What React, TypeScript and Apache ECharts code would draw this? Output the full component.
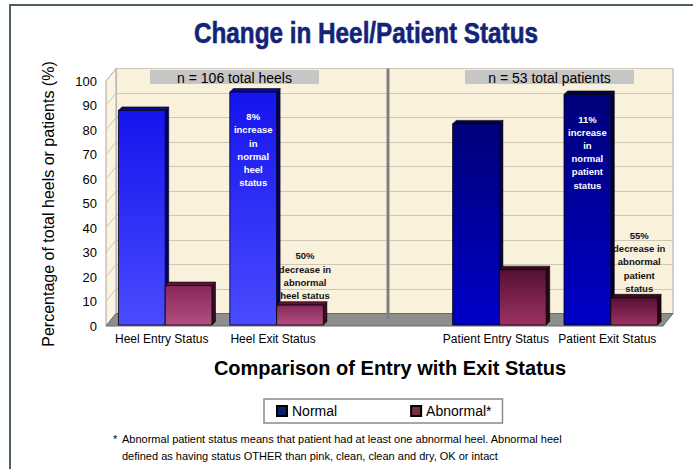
import React, { useEffect, useRef } from "react";
import * as echarts from "echarts";

// ---------- data ----------
const categories = ["Heel Entry Status", "Heel Exit Status", "", "Patient Entry Status", "Patient Exit Status"];
const groups = ["heel", "heel", "", "patient", "patient"];
const seriesNames = ["Normal", "Abnormal*"];
const normalValues = [88, 95.5, null, 82.5, 94.5];
const abnormalValues = [16.5, 8.5, null, 23, 11.5];
const normalNotes = ["", "8%\nincrease\nin\nnormal\nheel\nstatus", "", "", "11%\nincrease\nin\nnormal\npatient\nstatus"];
const abnormalNotes = ["", "50%\ndecrease in\nabnormal\nheel status", "", "", "55%\ndecrease in\nabnormal\npatient\nstatus"];
const yTicks = [0, 10, 20, 30, 40, 50, 60, 70, 80, 90, 100];
const groupLabels = ["n = 106 total heels", "n = 53 total patients"];
const titleText = "Change in Heel/Patient Status";
const yAxisTitle = "Percentage of total heels or patients (%)";
const xAxisTitle = "Comparison of Entry with Exit Status";
const footnoteLines = [
  "Abnormal patient status means that patient had at least one abnormal heel. Abnormal heel",
  "defined as having status OTHER than pink, clean, clean and dry, OK or intact",
];

// ---------- layout / style ----------
const W = 693;
const H = 469;
const FONT = "'Liberation Sans', Arial, Helvetica, sans-serif";
const FRONT = { left: 106, right: 30, top: 81, bottom: 143 };
const DX = 10;
const DY = 12.5;
const BACK = { left: FRONT.left + DX, right: FRONT.right - DX, top: FRONT.top - DY, bottom: FRONT.bottom + DY };
const BAR_SHIFT = 3.5;
const BAR_FRAC = 0.42;
const DEPTH = 3.5;

const barStyles: any = {
  heel: {
    normal: { top: "#1414ee", bottom: "#4b4bff", cap: "#0a0a9a", side: "#00006a" },
    abnormal: { top: "#86285a", bottom: "#b24e82", cap: "#5a1738", side: "#3a0c24" },
  },
  patient: {
    normal: { top: "#00007a", bottom: "#0000c8", cap: "#00005a", side: "#00003c" },
    abnormal: { top: "#561032", bottom: "#9c3264", cap: "#3a0a20", side: "#260614" },
  },
};
const legendColors = ["#0f1f70", "#7a2e40"];

function makeRenderItem(isNormal: boolean) {
  const notes = isNormal ? normalNotes : abnormalNotes;
  return (params: any, api: any) => {
    const idx = api.value(0);
    const v = api.value(1);
    const st = barStyles[groups[idx]][isNormal ? "normal" : "abnormal"];
    const base = api.coord([idx, 0]);
    const topP = api.coord([idx, v]);
    const catW = api.size([1, 0])[0];
    const bw = catW * BAR_FRAC;
    const x0 = (isNormal ? base[0] - bw : base[0]) + BAR_SHIFT;
    const yb = base[1] - 1;
    const yt = topP[1];
    const d = DEPTH;
    const children: any[] = [
      {
        type: "polygon",
        shape: { points: [[x0 + bw, yt], [x0 + bw + d, yt - d], [x0 + bw + d, yb - d], [x0 + bw, yb]] },
        style: { fill: st.side, stroke: "#000", lineWidth: 0.6 },
      },
      {
        type: "polygon",
        shape: { points: [[x0, yt], [x0 + d, yt - d], [x0 + bw + d, yt - d], [x0 + bw, yt]] },
        style: { fill: st.cap, stroke: "#000", lineWidth: 0.6 },
      },
      {
        type: "rect",
        shape: { x: x0, y: yt, width: bw, height: yb - yt },
        style: {
          fill: new echarts.graphic.LinearGradient(0, 0, 0, 1, [
            { offset: 0, color: st.top },
            { offset: 1, color: st.bottom },
          ]),
          stroke: "#000",
          lineWidth: 0.8,
        },
      },
    ];
    const note = notes[idx];
    if (note) {
      children.push({
        type: "text",
        x: x0 + bw / 2 + (isNormal ? 0 : 5),
        y: isNormal ? yt + 18 : yt - 3,
        style: {
          text: note,
          fill: isNormal ? "#ffffff" : "#111111",
          font: `bold 9.5px ${FONT}`,
          align: "center",
          verticalAlign: isNormal ? "top" : "bottom",
          lineHeight: 13.2,
        },
      });
    }
    return { type: "group", children };
  };
}

export default function App() {
  const ref = useRef<HTMLDivElement>(null);
  useEffect(() => {
    if (!ref.current) return;
    const chart = echarts.init(ref.current, undefined, { renderer: "svg" });
    const mkData = (vals: (number | null)[]) =>
      vals.map((v, i) => (v == null ? null : [i, v])).filter((d) => d !== null);

    const staticGraphics: any[] = [
      {
        type: "rect",
        z: 0,
        shape: { x: 10, y: 5, width: 720, height: 500 },
        style: { fill: "none", stroke: "#4f5f68", lineWidth: 2 },
      },
      {
        type: "text",
        x: 366,
        y: 33,
        scaleX: 0.81,
        style: {
          text: titleText,
          font: `bold 30px ${FONT}`,
          fill: "#122478",
          stroke: "#122478",
          lineWidth: 0.6,
          align: "center",
          verticalAlign: "middle",
        },
      },
      {
        type: "text",
        x: 48,
        y: 204,
        rotation: Math.PI / 2,
        style: { text: yAxisTitle, font: `16px ${FONT}`, fill: "#000", align: "center", verticalAlign: "middle" },
      },
      {
        type: "text",
        x: 390,
        y: 368,
        style: { text: xAxisTitle, font: `bold 20px ${FONT}`, fill: "#000", align: "center", verticalAlign: "middle" },
      },
      {
        type: "text",
        x: 113,
        y: 439,
        style: { text: "*", font: `11px ${FONT}`, fill: "#000", align: "left", verticalAlign: "middle" },
      },
      {
        type: "text",
        x: 122,
        y: 439,
        style: { text: footnoteLines[0], font: `11px ${FONT}`, fill: "#000", align: "left", verticalAlign: "middle" },
      },
      {
        type: "text",
        x: 122,
        y: 456,
        style: { text: footnoteLines[1], font: `11px ${FONT}`, fill: "#000", align: "left", verticalAlign: "middle" },
      },
      {
        type: "rect",
        z: 3,
        shape: { x: 150, y: 70, width: 169, height: 14 },
        style: { fill: "#c6c6c6" },
      },
      {
        type: "text",
        z: 4,
        x: 234.5,
        y: 77.5,
        style: { text: groupLabels[0], font: `14px ${FONT}`, fill: "#000", align: "center", verticalAlign: "middle" },
      },
      {
        type: "rect",
        z: 3,
        shape: { x: 465, y: 70, width: 169, height: 14 },
        style: { fill: "#c6c6c6" },
      },
      {
        type: "text",
        z: 4,
        x: 549.5,
        y: 77.5,
        style: { text: groupLabels[1], font: `14px ${FONT}`, fill: "#000", align: "center", verticalAlign: "middle" },
      },
    ];

    const option: any = {
      animation: false,
      backgroundColor: "#ffffff",
      textStyle: { fontFamily: FONT },
      legend: {
        data: seriesNames,
        left: 264,
        top: 399,
        padding: [5, 11, 5, 12],
        itemGap: 73,
        itemWidth: 10,
        itemHeight: 10,
        icon: "rect",
        borderColor: "#8a8a8a",
        borderWidth: 1.5,
        backgroundColor: "#ffffff",
        selectedMode: false,
        textStyle: { fontSize: 14, color: "#000", fontFamily: FONT },
      },
      grid: [
        {
          left: BACK.left,
          right: BACK.right,
          top: BACK.top,
          bottom: BACK.bottom,
          show: true,
          backgroundColor: "#faf1dc",
          borderColor: "#a6a6a6",
          borderWidth: 1,
        },
        { left: FRONT.left, right: FRONT.right, top: FRONT.top, bottom: FRONT.bottom },
      ],
      xAxis: [
        { gridIndex: 0, type: "category", data: categories, show: false },
        {
          gridIndex: 1,
          type: "category",
          data: categories,
          axisLine: { show: false },
          axisTick: { show: false },
          axisLabel: { interval: 0, fontSize: 12, color: "#000", margin: 7, fontFamily: FONT },
        },
      ],
      yAxis: [
        {
          gridIndex: 0,
          type: "value",
          min: 0,
          max: 100,
          interval: 10,
          axisLabel: { show: false },
          axisLine: { show: false },
          axisTick: { show: false },
          splitLine: { lineStyle: { color: "#cfc7b5", width: 1 } },
        },
        {
          gridIndex: 1,
          type: "value",
          min: 0,
          max: 100,
          interval: 10,
          axisLabel: { fontSize: 13, color: "#000", margin: 9, fontFamily: FONT },
          axisLine: { show: false },
          axisTick: { show: false },
          splitLine: { show: false },
        },
      ],
      series: [
        {
          name: seriesNames[0],
          type: "custom",
          xAxisIndex: 1,
          yAxisIndex: 1,
          z: 5,
          itemStyle: { color: legendColors[0], borderColor: "#000", borderWidth: 1 },
          encode: { x: 0, y: 1 },
          renderItem: makeRenderItem(true),
          data: mkData(normalValues),
        },
        {
          name: seriesNames[1],
          type: "custom",
          xAxisIndex: 1,
          yAxisIndex: 1,
          z: 6,
          itemStyle: { color: legendColors[1], borderColor: "#000", borderWidth: 1 },
          encode: { x: 0, y: 1 },
          renderItem: makeRenderItem(false),
          data: mkData(abnormalValues),
        },
      ],
      graphic: staticGraphics,
    };
    chart.setOption(option);

    // 3D walls, floor and divider computed through the axes
    const fl = FRONT.left;
    const bl = BACK.left;
    const ft = H - FRONT.bottom;
    const bt = H - BACK.bottom;
    const fr = W - FRONT.right;
    const br = W - BACK.right;
    const topY = FRONT.top;
    const diag = yTicks.map((t) => {
      const y = chart.convertToPixel({ yAxisIndex: 1 }, t) as number;
      return {
        type: "line",
        z: 2,
        shape: { x1: fl, y1: y, x2: bl, y2: y - DY },
        style: { stroke: "#cfc7b5", lineWidth: 1 },
      };
    });
    const divX = (chart.convertToPixel({ xAxisIndex: 1 }, 2) as number) + BAR_SHIFT;
    const dyn: any[] = [
      {
        type: "polygon",
        z: 1,
        shape: { points: [[fl, topY], [bl, topY - DY], [bl, bt], [fl, ft]] },
        style: { fill: "#fbf4e3", stroke: "#a6a6a6", lineWidth: 1 },
      },
      ...diag,
      {
        type: "polygon",
        z: 2,
        shape: { points: [[fl, ft], [bl, bt], [br, bt], [fr, ft]] },
        style: { fill: "#8e8e8e", stroke: "#6a6a6a", lineWidth: 1 },
      },
      {
        type: "line",
        z: 2,
        shape: { x1: divX, y1: BACK.top, x2: divX, y2: ft - 7 },
        style: { stroke: "#808080", lineWidth: 3 },
      },
    ];
    chart.setOption({ graphic: [...staticGraphics, ...dyn] });

    return () => chart.dispose();
  }, []);

  return (
    <div
      ref={ref}
      style={{ position: "fixed", left: 0, top: 0, width: W, height: H, background: "#fff" }}
    />
  );
}
